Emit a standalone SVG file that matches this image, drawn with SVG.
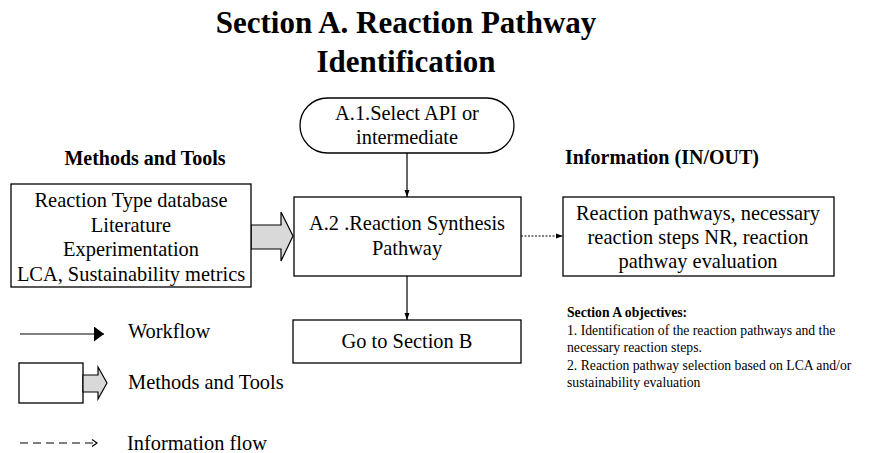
<svg xmlns="http://www.w3.org/2000/svg" width="879" height="453" viewBox="0 0 879 453" font-family="'Liberation Serif', 'DejaVu Serif', 'Times New Roman', serif">
  <style>
    text { font-family: 'Liberation Serif', 'DejaVu Serif', 'Times New Roman', serif; fill: #000; }
    .title { font-size: 31px; font-weight: bold; text-anchor: middle; }
    .head { font-size: 20px; font-weight: bold; text-anchor: middle; }
    .lbl { font-size: 20.4px; text-anchor: middle; }
    .leg { font-size: 20.4px; }
    .obj { font-size: 13.7px; }
    .box { fill: #fff; stroke: #000; stroke-width: 1.3; }
    .tool { fill: #d9d9d9; stroke: #000; stroke-width: 1.2; }
    .wf { stroke: #000; stroke-width: 1.2; fill: none; }
  </style>
  <defs>
    <marker id="solidHead" markerWidth="11" markerHeight="16" refX="10" refY="7.5" orient="auto" markerUnits="userSpaceOnUse">
      <path d="M0,0 L10,7.5 L0,15 Z" fill="#000"/>
    </marker>
    <marker id="smallHead" markerWidth="8" markerHeight="6" refX="7" refY="3" orient="auto" markerUnits="userSpaceOnUse">
      <path d="M0,0.5 L7,3 L0,5.5 Z" fill="#000"/>
    </marker>
    <marker id="openHead" markerWidth="8" markerHeight="10" refX="6" refY="4" orient="auto" markerUnits="userSpaceOnUse">
      <path d="M1,0.5 L6,4 L1,7.5" fill="none" stroke="#000" stroke-width="1.2"/>
    </marker>
  </defs>

  <!-- heading -->
  <text class="title" x="406" y="33">Section A. Reaction Pathway</text>
  <text class="title" x="406" y="72">Identification</text>
  <text class="head" x="145" y="165">Methods and Tools</text>
  <text class="head" x="662" y="164">Information (IN/OUT)</text>

  <!-- connectors -->
  <g id="connectors">
    <line class="wf" x1="407" y1="153" x2="407" y2="197" marker-end="url(#smallHead)"/>
    <line class="wf" x1="407" y1="276" x2="407" y2="320" marker-end="url(#smallHead)"/>
    <line x1="521" y1="236" x2="563" y2="236" stroke="#000" stroke-width="1.2" stroke-dasharray="2,1.5" marker-end="url(#smallHead)"/>
    <path class="tool" d="M251,225 H281 V212 L293,236 L281,261 V249 H251 Z"/>
  </g>

  <g id="methods">
    <rect class="box" x="11" y="184" width="240" height="103"/>
    <text class="lbl" x="131" y="207">Reaction Type database</text>
    <text class="lbl" x="131" y="232">Literature</text>
    <text class="lbl" x="131" y="256">Experimentation</text>
    <text class="lbl" x="131" y="281">LCA, Sustainability metrics</text>
  </g>

  <g id="a1">
    <rect class="box" x="300" y="98" width="214" height="55" rx="27.5" ry="27.5"/>
    <text class="lbl" x="407" y="120">A.1.Select API or</text>
    <text class="lbl" x="407" y="144">intermediate</text>
  </g>

  <g id="a2">
    <rect class="box" x="294" y="197" width="227" height="79"/>
    <text class="lbl" x="407" y="230">A.2 .Reaction Synthesis</text>
    <text class="lbl" x="407" y="255">Pathway</text>
  </g>

  <g id="info">
    <rect class="box" x="563" y="197" width="271" height="79"/>
    <text class="lbl" x="698" y="220">Reaction pathways, necessary</text>
    <text class="lbl" x="698" y="244">reaction steps NR, reaction</text>
    <text class="lbl" x="698" y="268">pathway evaluation</text>
  </g>

  <g id="sectionB">
    <rect class="box" x="293" y="320" width="228" height="43"/>
    <text class="lbl" x="407" y="348">Go to Section B</text>
  </g>

  <g id="objectives">
    <text class="obj" x="567" y="317" font-weight="bold">Section A objectives:</text>
    <text class="obj" x="567" y="335">1. Identification of the reaction pathways and the</text>
    <text class="obj" x="567" y="352">necessary reaction steps.</text>
    <text class="obj" x="567" y="370">2. Reaction pathway selection based on LCA and/or</text>
    <text class="obj" x="567" y="387">sustainability evaluation</text>
  </g>

  <g id="legend">
    <line class="wf" x1="20" y1="334" x2="104" y2="334" marker-end="url(#solidHead)"/>
    <text class="leg" x="128" y="338">Workflow</text>
    <rect class="box" x="19" y="363" width="64" height="40"/>
    <path class="tool" d="M83,375 H98 V367 L107,383 L98,399 V392 H83 Z"/>
    <text class="leg" x="128" y="389">Methods and Tools</text>
    <line x1="20" y1="443" x2="97" y2="443" stroke="#000" stroke-width="1" stroke-dasharray="8,5" marker-end="url(#openHead)"/>
    <text class="leg" x="127" y="450">Information flow</text>
  </g>
</svg>
